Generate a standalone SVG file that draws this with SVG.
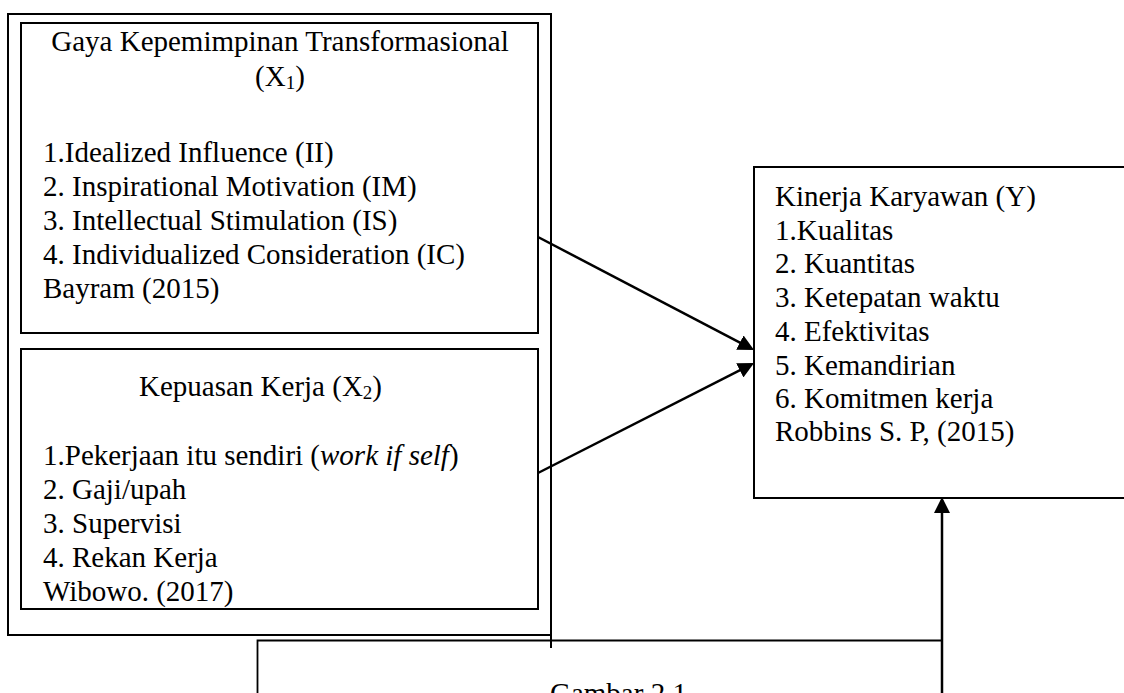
<svg xmlns="http://www.w3.org/2000/svg" width="1124" height="693" viewBox="0 0 1124 693">
  <style>
    .box { fill: none; stroke: #000; stroke-width: 2; }
    .t { font-family: "Liberation Serif", "Times New Roman", serif; font-size: 29px; fill: #000; }
    .sub { font-size: 19px; }
    .line { fill: none; stroke: #000; stroke-width: 2.5; }
    .thin { fill: none; stroke: #000; stroke-width: 1.8; }
  </style>
  <defs>
    <marker id="arrow" viewBox="0 0 16 16" refX="13" refY="8" markerWidth="16" markerHeight="16" markerUnits="userSpaceOnUse" orient="auto">
      <path d="M0,0 L16,8 L0,16 z" fill="#000"/>
    </marker>
  </defs>
  <rect width="1124" height="693" fill="#fff"/>

  <g id="group-x">
    <rect class="box" x="8" y="14" width="543" height="621"/>
    <line class="box" x1="551" y1="635" x2="551" y2="648"/>
  </g>

  <g id="node-x1">
    <rect class="box" x="21" y="23" width="517" height="310"/>
    <text class="t" x="280" y="51" text-anchor="middle">Gaya Kepemimpinan Transformasional</text>
    <text class="t" x="280" y="86" text-anchor="middle">(X<tspan class="sub" dy="3">1</tspan><tspan dy="-3">)</tspan></text>
    <text class="t" x="43" y="162">1.Idealized Influence (II)</text>
    <text class="t" x="43" y="195.5">2. Inspirational Motivation (IM)</text>
    <text class="t" x="43" y="229.5">3. Intellectual Stimulation (IS)</text>
    <text class="t" x="43" y="263.5">4. Individualized Consideration (IC)</text>
    <text class="t" x="43" y="298">Bayram (2015)</text>
  </g>

  <g id="node-x2">
    <rect class="box" x="21" y="349" width="517" height="260"/>
    <text class="t" x="139" y="396">Kepuasan Kerja (X<tspan class="sub" dy="3">2</tspan><tspan dy="-3">)</tspan></text>
    <text class="t" x="43" y="465">1.Pekerjaan itu sendiri (<tspan font-style="italic">work if self</tspan>)</text>
    <text class="t" x="43" y="499">2. Gaji/upah</text>
    <text class="t" x="43" y="533">3. Supervisi</text>
    <text class="t" x="43" y="567">4. Rekan Kerja</text>
    <text class="t" x="43" y="601">Wibowo. (2017)</text>
  </g>

  <g id="node-y">
    <rect class="box" x="754" y="167" width="380" height="331"/>
    <text class="t" x="775" y="206">Kinerja Karyawan (Y)</text>
    <text class="t" x="775" y="239.5">1.Kualitas</text>
    <text class="t" x="775" y="273">2. Kuantitas</text>
    <text class="t" x="775" y="307">3. Ketepatan waktu</text>
    <text class="t" x="775" y="341">4. Efektivitas</text>
    <text class="t" x="775" y="374.5">5. Kemandirian</text>
    <text class="t" x="775" y="408">6. Komitmen kerja</text>
    <text class="t" x="775" y="441">Robbins S. P, (2015)</text>
  </g>

  <g id="connectors">
    <line class="line" x1="538" y1="237" x2="751.4" y2="348.6" marker-end="url(#arrow)"/>
    <line class="line" x1="538" y1="473" x2="751.4" y2="364.4" marker-end="url(#arrow)"/>
    <line class="line" x1="942" y1="693" x2="942" y2="500" marker-end="url(#arrow)"/>
  </g>

  <g id="caption">
    <polyline class="thin" points="257.5,693 257.5,640.5 942,640.5"/>
    <text class="t" x="550" y="703">Gambar 2.1</text>
  </g>
</svg>
